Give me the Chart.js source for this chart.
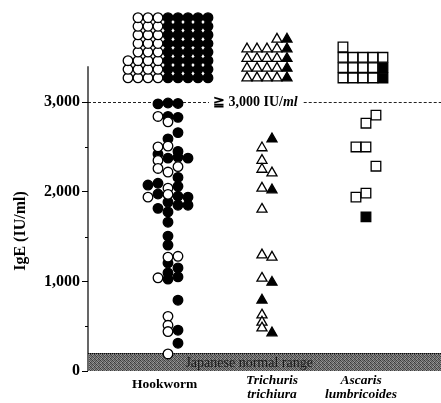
<!DOCTYPE html>
<html lang="en">
<head>
<meta charset="UTF-8">
<title>Serum IgE by helminth</title>
<script src="https://cdn.jsdelivr.net/npm/chart.js"></script>
<style>
    body { margin: 0; background: #fff; }
    #wrap { width: 441px; height: 403px; position: relative; }
</style>
</head>
<body>
<div id="wrap"><canvas id="chart"></canvas></div>
<script>
    // categories on the x axis
    const categories = [['Hookworm'], ['Trichuris', 'trichiura'], ['Ascaris', 'lumbricoides']];
    const italicCategory = [false, true, true];

    // IgE (IU/ml) below 3,000, with the lateral slot each symbol sits in
    const hookOpenValues = [2840, 2780, 2500, 2510, 2350, 2260, 2220, 2280, 2040, 1940, 1970, 1270, 1280, 1040, 610, 510, 440, 190];
    const hookOpenSlot = [-1, 0, -1, 0, -1, -1, 0, 1, 0, -2, 0, 0, 1, -1, 0, 0, 0, 0];
    const hookFilledValues = [2980, 2990, 2985, 2840, 2830, 2660, 2590, 2420, 2450, 2375, 2385, 2375, 2160, 2075, 2095, 2060, 1975, 1950, 1940, 1885, 1850, 1850, 1815, 1775, 1660, 1505, 1405, 1205, 1150, 1095, 1025, 1050, 790, 455, 310];
    const hookFilledSlot = [-1, 0, 1, 0, 1, 1, 0, -1, 1, 0, 1, 2, 1, -2, -1, 1, -1, 1, 2, 0, 1, 2, -1, 0, 0, 0, 0, 0, 1, 0, 0, 1, 1, 1, 1];

    const triOpenValues = [2490, 2350, 2250, 2210, 2040, 1805, 1295, 1270, 1035, 625, 545, 480];
    const triOpenSlot = [-0.5, -0.5, -0.5, 0.5, -0.5, -0.5, -0.5, 0.5, -0.5, -0.5, -0.5, -0.5];
    const triFilledValues = [2590, 2020, 990, 790, 425];
    const triFilledSlot = [0.5, 0.5, 0.5, -0.5, 0.5];

    const ascOpenValues = [2855, 2765, 2500, 2500, 2285, 1940, 1985];
    const ascOpenSlot = [1, 0, -1, 0, 1, -1, 0];
    const ascFilledValues = [1720];
    const ascFilledSlot = [0];

    // cases >= 3,000 IU/ml, counted per column of the stack (filled at bottom, open above)
    const hookOverOpen = [3, 8, 8, 8, 0, 0, 0, 0, 0];
    const hookOverFilled = [0, 0, 0, 0, 8, 8, 8, 8, 8];
    const triOverOpen = [4, 4, 4, 5, 0];
    const triOverFilled = [0, 0, 0, 0, 5];
    const ascOverOpen = [4, 3, 3, 3, 1];
    const ascOverFilled = [0, 0, 0, 0, 2];

    const yTicks = [0, 1000, 2000, 3000];
    const yMinorTicks = [500, 1500, 2500];
    const cutoff = 3000;
    const normalUpper = 200;
    const axisTop = 3400;

    // layout
    const slotStep = 0.101;
    const overBase = 3270;
    const rowStep = [96, 108, 115];
    const colShift = [0, 0, -0.3];
    const labelShift = [-0.035, 0.05, -0.05];
    const serif = '"Liberation Serif", "Times New Roman", serif';

    function scatterPts(g, values, slots) {
        return values.map((v, i) => ({ x: g + 1 + slots[i] * slotStep, y: v }));
    }

    function overPts(g, openCols, filledCols, wantFilled) {
        const pts = [];
        const n = openCols.length;
        for (let c = 0; c < n; c++) {
            const x = g + 1 + (c - (n - 1) / 2 + colShift[g]) * slotStep;
            const start = wantFilled ? 0 : filledCols[c];
            const count = wantFilled ? filledCols[c] : openCols[c];
            for (let r = start; r < start + count; r++) {
                pts.push({ x: x, y: overBase + r * rowStep[g] });
            }
        }
        return pts;
    }

    function series(label, pts, style, filled, radius) {
        return {
            label: label,
            data: pts,
            pointStyle: style,
            pointRadius: radius,
            pointHoverRadius: radius,
            pointBackgroundColor: filled ? '#000' : '#fff',
            pointBorderColor: '#000',
            pointBorderWidth: 1.3,
            showLine: false,
            clip: false
        };
    }

    function bandPattern(ctx) {
        const c = document.createElement('canvas');
        c.width = 4; c.height = 4;
        const g = c.getContext('2d');
        const shades = [60, 140, 90, 125, 130, 70, 150, 80, 95, 160, 55, 130, 150, 85, 120, 70];
        shades.forEach((s, i) => {
            g.fillStyle = `rgb(${s},${s},${s})`;
            g.fillRect(i % 4, Math.floor(i / 4), 1, 1);
        });
        return ctx.createPattern(c, 'repeat');
    }

    const decorations = {
        id: 'decorations',
        beforeDatasetsDraw(chart) {
            const { ctx, chartArea: a, scales: { x, y } } = chart;
            ctx.save();

            // normal range band
            const yTop = y.getPixelForValue(normalUpper);
            const y0 = y.getPixelForValue(0);
            ctx.fillStyle = bandPattern(ctx);
            ctx.fillRect(a.left + 1, yTop, a.right - a.left - 1, y0 - yTop);
            ctx.strokeStyle = '#000';
            ctx.lineWidth = 1;
            ctx.setLineDash([1, 1]);
            ctx.beginPath();
            ctx.moveTo(a.left, yTop + 0.5);
            ctx.lineTo(a.right, yTop + 0.5);
            ctx.stroke();
            ctx.fillStyle = '#1a1a1a';
            ctx.font = '14px ' + serif;
            ctx.textAlign = 'center';
            ctx.textBaseline = 'middle';
            ctx.fillText('Japanese normal range', x.getPixelForValue(1.82), (yTop + y0) / 2 + 1);

            // cutoff line and its label
            const yc = Math.round(y.getPixelForValue(cutoff)) + 0.5;
            const lx = x.getPixelForValue(1) + 45;
            ctx.textAlign = 'left';
            ctx.fillStyle = '#000';
            ctx.font = 'bold 14px ' + serif;
            const part1 = '\u2267 3,000 IU/';
            ctx.fillText(part1, lx, yc);
            const w1 = ctx.measureText(part1).width;
            ctx.font = 'italic bold 14px ' + serif;
            ctx.fillText('ml', lx + w1, yc);
            const w2 = ctx.measureText('ml').width;

            ctx.setLineDash([3, 2]);
            ctx.strokeStyle = '#222';
            ctx.beginPath();
            ctx.moveTo(a.left, yc);
            ctx.lineTo(lx - 4, yc);
            ctx.moveTo(lx + w1 + w2 + 6, yc);
            ctx.lineTo(a.right, yc);
            ctx.stroke();

            // y axis line, up to just below the stacks
            ctx.setLineDash([]);
            ctx.strokeStyle = '#000';
            ctx.lineWidth = 1.2;
            ctx.beginPath();
            ctx.moveTo(a.left, y0);
            ctx.lineTo(a.left, y.getPixelForValue(axisTop));
            ctx.stroke();
            ctx.restore();
        },
        afterDraw(chart) {
            const { ctx, chartArea: a, scales: { y } } = chart;
            ctx.save();
            ctx.strokeStyle = '#000';
            ctx.lineWidth = 1;
            yMinorTicks.forEach(v => {
                const py = Math.round(y.getPixelForValue(v)) + 0.5;
                ctx.beginPath();
                ctx.moveTo(a.left - 3, py);
                ctx.lineTo(a.left, py);
                ctx.stroke();
            });
            // y axis title
            ctx.translate(21, 231);
            ctx.rotate(-Math.PI / 2);
            ctx.fillStyle = '#000';
            ctx.font = 'bold 16px ' + serif;
            ctx.textAlign = 'center';
            ctx.textBaseline = 'middle';
            ctx.fillText('IgE (IU/ml)', 0, 0);
            ctx.restore();
        }
    };

    new Chart(document.getElementById('chart'), {
        type: 'scatter',
        data: {
            datasets: [
                series('Hookworm', scatterPts(0, hookOpenValues, hookOpenSlot).concat(overPts(0, hookOverOpen, hookOverFilled, false)), 'circle', false, 4.8),
                series('Hookworm (filled)', scatterPts(0, hookFilledValues, hookFilledSlot).concat(overPts(0, hookOverOpen, hookOverFilled, true)), 'circle', true, 4.8),
                series('Trichuris', scatterPts(1, triOpenValues, triOpenSlot).concat(overPts(1, triOverOpen, triOverFilled, false)), 'triangle', false, 5.8),
                series('Trichuris (filled)', scatterPts(1, triFilledValues, triFilledSlot).concat(overPts(1, triOverOpen, triOverFilled, true)), 'triangle', true, 5.8),
                series('Ascaris', scatterPts(2, ascOpenValues, ascOpenSlot).concat(overPts(2, ascOverOpen, ascOverFilled, false)), 'rect', false, 6.8),
                series('Ascaris (filled)', scatterPts(2, ascFilledValues, ascFilledSlot).concat(overPts(2, ascOverOpen, ascOverFilled, true)), 'rect', true, 6.8)
            ]
        },
        options: {
            responsive: true,
            maintainAspectRatio: false,
            animation: false,
            layout: { autoPadding: false, padding: 0 },
            plugins: {
                legend: { display: false },
                tooltip: { enabled: false }
            },
            scales: {
                x: {
                    type: 'linear',
                    min: 0.192,
                    max: 3.758,
                    grid: { display: false, drawTicks: false },
                    border: { display: false },
                    afterBuildTicks: s => { s.ticks = categories.map((c, i) => ({ value: i + 1 + labelShift[i] })); },
                    afterFit: s => { s.height = 32; },
                    ticks: {
                        autoSkip: false,
                        maxRotation: 0,
                        padding: 3,
                        color: '#000',
                        callback: (v, i) => categories[i],
                        font: ctx => ({
                            family: serif,
                            size: 13.5,
                            weight: 'bold',
                            style: italicCategory[ctx.index] ? 'italic' : 'normal',
                            lineHeight: ctx.index === 0 ? 1.556 : 1.037
                        })
                    }
                },
                y: {
                    type: 'linear',
                    min: 0,
                    max: 4010,
                    afterBuildTicks: s => { s.ticks = yTicks.map(v => ({ value: v })); },
                    afterFit: s => { s.width = 88; },
                    grid: { drawOnChartArea: false, drawTicks: true, tickLength: 6, color: '#000', lineWidth: 1 },
                    border: { display: false },
                    ticks: {
                        color: '#000',
                        padding: 2,
                        font: { family: serif, size: 16, weight: 'bold' },
                        callback: v => v.toLocaleString('en-US')
                    }
                }
            }
        },
        plugins: [decorations]
    });
</script>
</body>
</html>
